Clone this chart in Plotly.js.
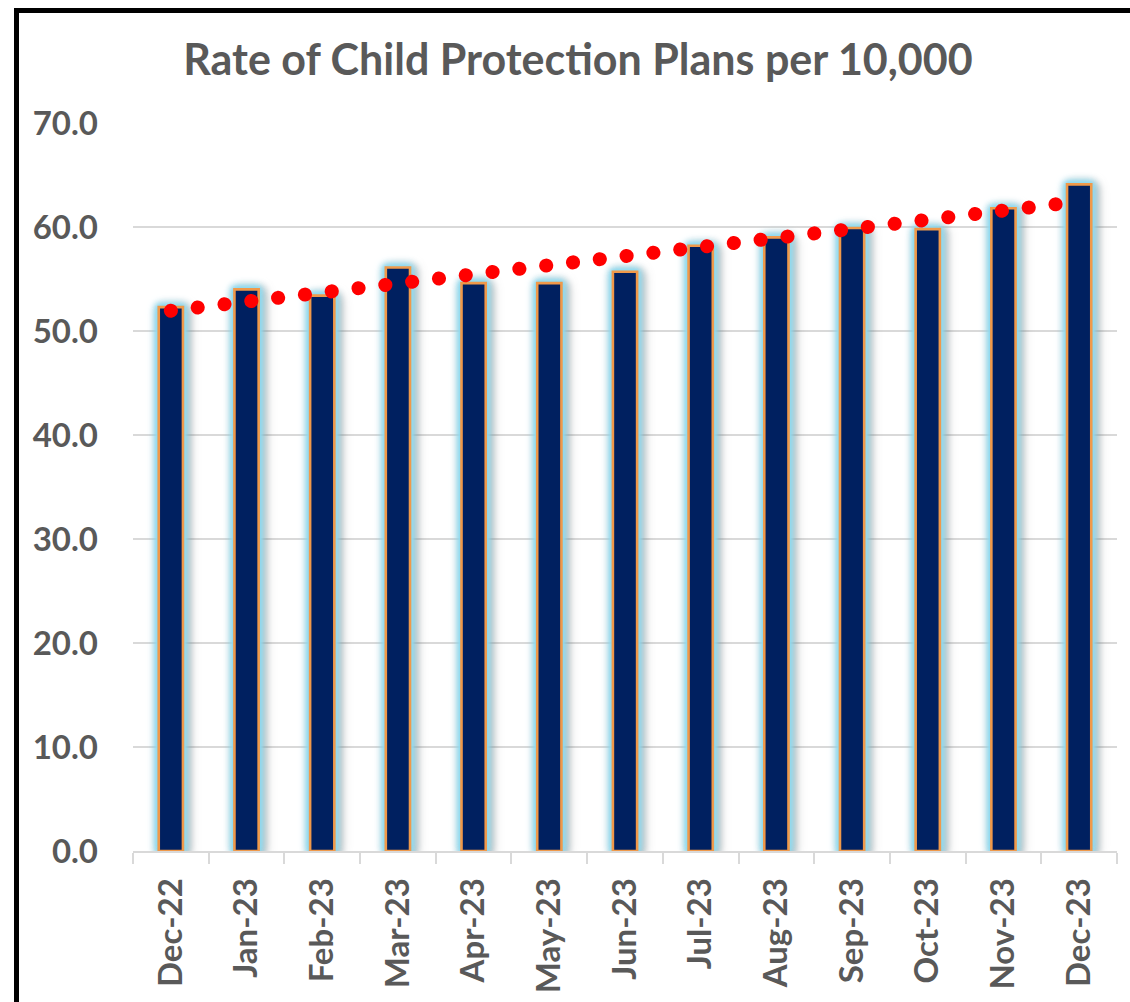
<!DOCTYPE html>
<html>
<head>
<meta charset="utf-8">
<script src="https://cdn.plot.ly/plotly-3.0.1.min.js"></script>
<style>
  html, body { margin: 0; padding: 0; background: #fff; overflow: hidden; }
  #wrap { position: relative; width: 1130px; height: 1002px; }
  #chart { width: 1130px; height: 1002px; }
  #frame { position: absolute; left: 14px; top: 8px; width: 2000px; height: 2000px;
           border-left: 5px solid #000; border-top: 5px solid #000; pointer-events: none; }
  .scatterlayer .js-line { stroke-linecap: round !important; }
  .barlayer .point path {
    filter: drop-shadow(0 0 2px #7fd8f2) drop-shadow(0 0 3px #8fdcf2) drop-shadow(0 0 3px #a8e4f5) drop-shadow(3px 2px 3px rgba(0,0,0,0.30));
  }
</style>
</head>
<body>
<div id="wrap">
  <div id="chart"></div>
  <div id="frame"></div>
</div>
<script>
const months = ["Dec-22","Jan-23","Feb-23","Mar-23","Apr-23","May-23","Jun-23","Jul-23","Aug-23","Sep-23","Oct-23","Nov-23","Dec-23"];
const rates = [52.3, 54.0, 53.4, 56.1, 54.6, 54.6, 55.7, 58.2, 59.0, 59.9, 59.8, 61.8, 64.1];
const trendMonths = ["Dec-22", "Dec-23"];
const trendValues = [51.95, 62.45];
const yTickVals = [0, 10, 20, 30, 40, 50, 60, 70];
const yTickText = ["0.0", "10.0", "20.0", "30.0", "40.0", "50.0", "60.0", "70.0"];

const grey = "#595959";
const font = "Lato, 'Open Sans', sans-serif";

const data = [
  {
    type: "bar",
    x: months,
    y: rates,
    width: 0.32,
    marker: { color: "#002060", line: { color: "#F0994A", width: 2.6 } },
    hoverinfo: "x+y"
  },
  {
    type: "scatter",
    mode: "lines",
    x: trendMonths,
    y: trendValues,
    line: { color: "#FF0000", width: 14, dash: "0.1px,26.9px" },
    hoverinfo: "skip"
  }
];

const layout = {
  width: 1130,
  height: 1002,
  paper_bgcolor: "#ffffff",
  plot_bgcolor: "#ffffff",
  showlegend: false,
  margin: { l: 133, r: 13, t: 123, b: 151, pad: 0 },
  title: {
    text: "<b>Rate of Child Protection Plans per 10,000</b>",
    font: { family: font, size: 43, color: grey },
    xref: "container", x: 0.5115, xanchor: "center",
    yref: "container", y: 0.940, yanchor: "middle"
  },
  xaxis: {
    type: "category",
    categoryorder: "array",
    categoryarray: months,
    range: [-0.5, 12.5],
    showgrid: false,
    showline: true,
    linecolor: "#d9d9d9",
    linewidth: 2,
    ticks: "outside",
    tickson: "boundaries",
    ticklen: 11,
    tickwidth: 2,
    tickcolor: "#d9d9d9",
    tickangle: -90,
    ticklabelstandoff: 12,
    tickfont: { family: font, size: 33, color: grey, weight: "bold" },
    zeroline: false,
    fixedrange: true
  },
  yaxis: {
    range: [0, 70],
    tickvals: yTickVals,
    ticktext: yTickText,
    showgrid: true,
    gridcolor: "#d9d9d9",
    gridwidth: 2,
    zeroline: false,
    showline: false,
    ticks: "",
    ticklabelstandoff: 34,
    tickfont: { family: font, size: 33, color: grey, weight: "bold" },
    fixedrange: true
  },
  bargap: 0
};

Plotly.newPlot("chart", data, layout, { displayModeBar: false, staticPlot: true });
</script>
</body>
</html>
